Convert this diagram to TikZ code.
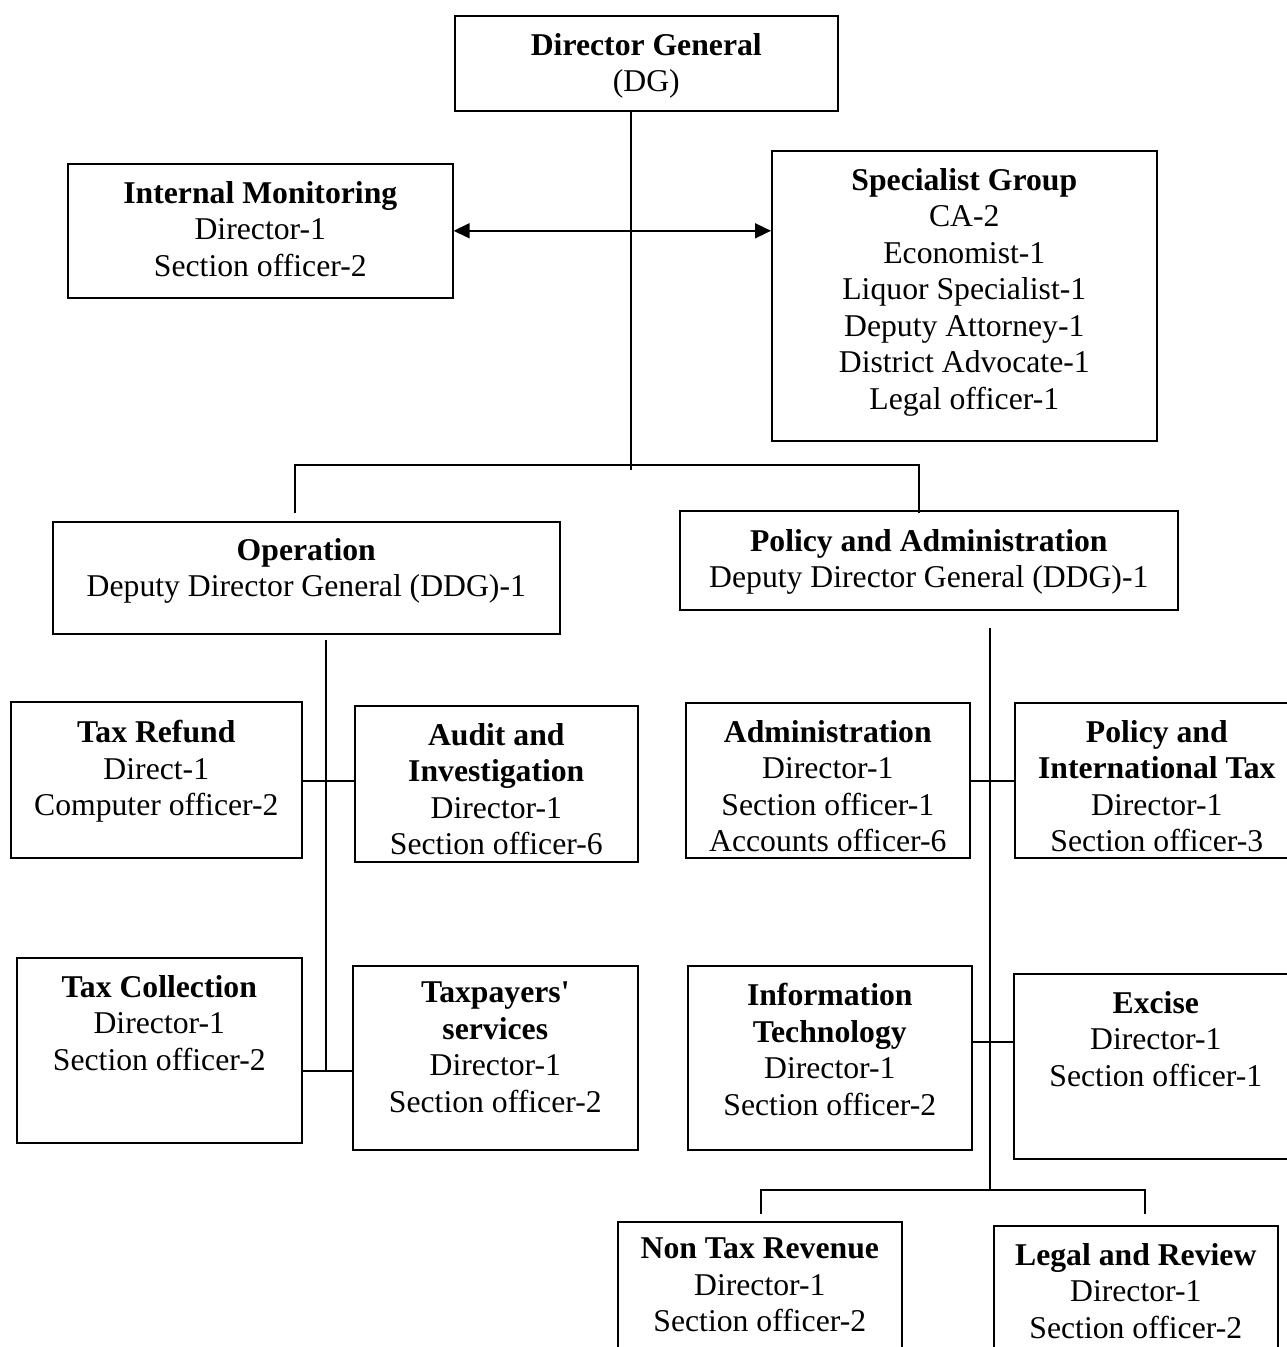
\documentclass[tikz,border=0pt]{standalone}
\usepackage{fontspec}
\setmainfont{Liberation Serif}
\usetikzlibrary{arrows.meta, positioning}

\tikzset{
  unit/.style={draw, line width=1.6pt, anchor=north west, inner sep=0pt},
  txt/.style={align=center, inner sep=0pt, font=\fontsize{31.7pt}{36.5pt}\selectfont},
  link/.style={line width=1.6pt},
  tip/.style={{Triangle[length=16pt,width=15pt]}-{Triangle[length=16pt,width=15pt]}},
}

\begin{document}
\begin{tikzpicture}[x=1pt, y=-1pt]
  \useasboundingbox (0,0) rectangle (1287,1347);
  \fill[white] (0,0) rectangle (1287,1347);
  \clip (0,0) rectangle (1287,1347);

  % head and staff units
  \node[unit, minimum width=383pt, minimum height=95pt] (dg) at (454,15) {};
  \node[txt, below=18pt of dg.north] (dgtxt) {\textbf{Director General}\\(DG)};
  \node[unit, minimum width=385pt, minimum height=134pt] (monitor) at (67,163) {};
  \node[txt, below=18pt of monitor.north] (monitortxt) {\textbf{Internal Monitoring}\\Director-1\\Section officer-2};
  \node[unit, minimum width=385pt, minimum height=290pt] (special) at (771,150) {};
  \node[txt, below=18pt of special.north] (specialtxt) {\textbf{Specialist Group}\\CA-2\\Economist-1\\Liquor Specialist-1\\Deputy Attorney-1\\District Advocate-1\\Legal officer-1};

  % deputy directors general
  \node[unit, minimum width=507pt, minimum height=112pt] (oper) at (52,521) {};
  \node[txt, below=17pt of oper.north] (opertxt) {\textbf{Operation}\\Deputy Director General (DDG)-1};
  \node[unit, minimum width=498pt, minimum height=99pt] (poladm) at (679,510) {};
  \node[txt, below=19pt of poladm.north] (poladmtxt) {\textbf{Policy and Administration}\\Deputy Director General (DDG)-1};

  % operation wing
  \node[unit, minimum width=291pt, minimum height=156pt] (refund) at (10,701) {};
  \node[txt, below=19pt of refund.north] (refundtxt) {\textbf{Tax Refund}\\Direct-1\\Computer officer-2};
  \node[unit, minimum width=283pt, minimum height=156pt] (audit) at (354,705) {};
  \node[txt, below=18pt of audit.north] (audittxt) {\textbf{Audit and}\\\textbf{Investigation}\\Director-1\\Section officer-6};
  \node[unit, minimum width=285pt, minimum height=185pt] (collect) at (16,957) {};
  \node[txt, below=18pt of collect.north] (collecttxt) {\textbf{Tax Collection}\\Director-1\\Section officer-2};
  \node[unit, minimum width=285pt, minimum height=184pt] (taxpay) at (352,965) {};
  \node[txt, below=17pt of taxpay.north] (taxpaytxt) {\textbf{Taxpayers\textquotesingle}\\\textbf{services}\\Director-1\\Section officer-2};

  % policy and administration wing
  \node[unit, minimum width=284pt, minimum height=155pt] (admin) at (685,702) {};
  \node[txt, below=18pt of admin.north] (admintxt) {\textbf{Administration}\\Director-1\\Section officer-1\\Accounts officer-6};
  \node[unit, minimum width=284pt, minimum height=155pt] (intl) at (1014,702) {};
  \node[txt, below=18pt of intl.north] (intltxt) {\textbf{Policy and}\\\textbf{International Tax}\\Director-1\\Section officer-3};
  \node[unit, minimum width=284pt, minimum height=184pt] (infotech) at (687,965) {};
  \node[txt, below=18pt of infotech.north] (infotechtxt) {\textbf{Information}\\\textbf{Technology}\\Director-1\\Section officer-2};
  \node[unit, minimum width=284pt, minimum height=185pt] (excise) at (1013,973) {};
  \node[txt, below=18pt of excise.north] (excisetxt) {\textbf{Excise}\\Director-1\\Section officer-1};
  \node[unit, minimum width=284pt, minimum height=160pt] (nontax) at (617,1221) {};
  \node[txt, below=17pt of nontax.north] (nontaxtxt) {\textbf{Non Tax Revenue}\\Director-1\\Section officer-2};
  \node[unit, minimum width=284pt, minimum height=160pt] (legal) at (993,1225) {};
  \node[txt, below=18pt of legal.north] (legaltxt) {\textbf{Legal and Review}\\Director-1\\Section officer-2};

  % trunk and top bus
  \coordinate (trunk) at (631,470);
  \coordinate (busL) at (295,465);
  \coordinate (busR) at (919,465);
  \coordinate (dropL) at (295,513);
  \coordinate (dropR) at (919,513);
  \draw[link] (dg.south -| trunk) -- (trunk);
  \draw[link] (dropL) -- (busL) -- (busR) -- (dropR);
  \draw[link, tip] (monitor.east) -- (monitor.east -| special.west);

  % operation spine
  \coordinate (opTop) at (326,640);
  \coordinate (jA) at (326,781);
  \coordinate (jB) at (326,1071);
  \draw[link] (opTop) -- (jB);
  \draw[link] (refund.east |- jA) -- (audit.west |- jA);
  \draw[link] (collect.east |- jB) -- (taxpay.west |- jB);

  % policy spine
  \coordinate (paTop) at (990,628);
  \coordinate (jC) at (990,781);
  \coordinate (jD) at (990,1042);
  \coordinate (jE) at (990,1190);
  \coordinate (dropN) at (761,1214);
  \coordinate (dropG) at (1145,1214);
  \draw[link] (paTop) -- (jE);
  \draw[link] (admin.east |- jC) -- (intl.west |- jC);
  \draw[link] (infotech.east |- jD) -- (excise.west |- jD);
  \draw[link] (dropN) |- (jE) -| (dropG);
\end{tikzpicture}
\end{document}
